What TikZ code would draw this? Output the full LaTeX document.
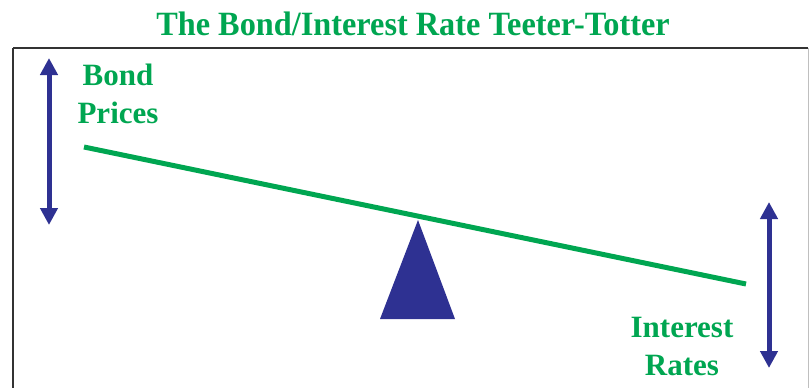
\documentclass[tikz,border=0pt]{standalone}
\usepackage{fontspec}
\setmainfont{Liberation Serif}
\usepackage{tikz}
\usetikzlibrary{positioning, arrows.meta, calc}

\definecolor{teetergreen}{HTML}{00A651}
\definecolor{teeterblue}{HTML}{2E3192}

\begin{document}
\begin{tikzpicture}[
  x=1pt, y=-1pt,
  every node/.style={font=\fontsize{31}{38}\selectfont\bfseries, text=teetergreen},
  frame/.style={draw=black!80, line width=2.5pt},
  beam/.style={draw=teetergreen, line width=5pt},
  updown/.style={{Triangle[length=17pt,width=17pt]}-{Triangle[length=17pt,width=17pt]},
                 draw=teeterblue, line width=5pt},
  pivot/.style={fill=teeterblue},
  lbl/.style={align=center, inner sep=0pt}
]
\useasboundingbox (0,0) rectangle (811,388);

%--- Title ---
\node[inner sep=0pt, anchor=base, font=\fontsize{34}{40}\selectfont\bfseries] (title) at (413,35)
  {\scalebox{0.95}[1]{The Bond/Interest Rate Teeter-Totter}};

%--- Frame ---
\draw[frame] (13,48) -- (808,48);
\draw[frame] (13,48) -- (13,400);
\draw[draw=black!25, line width=1pt] (808,48) -- (808,400);

%--- Beam and pivot ---
\coordinate (beamL) at (84,147);
\coordinate (beamR) at (746,284);
\draw[beam] (beamL) -- (beamR);

\coordinate (apex) at (418,220);
\coordinate (baseL) at (380,319);
\coordinate (baseR) at (455,319);
\fill[pivot] (apex) -- (baseL) -- (baseR) -- cycle;

%--- Labels ---
\node[lbl, anchor=base] (bond) at (118,123) {Bond\\Prices};
\node[lbl, anchor=base] (rates) at (682,375) {Interest\\Rates};

%--- Up/down arrows ---
\coordinate (bondTop) at (49,58);
\coordinate (bondBot) at (49,225);
\draw[updown] (bondTop) -- (bondBot);

\coordinate (ratesTop) at (769,202);
\coordinate (ratesBot) at (769,368);
\draw[updown] (ratesTop) -- (ratesBot);

\end{tikzpicture}
\end{document}
